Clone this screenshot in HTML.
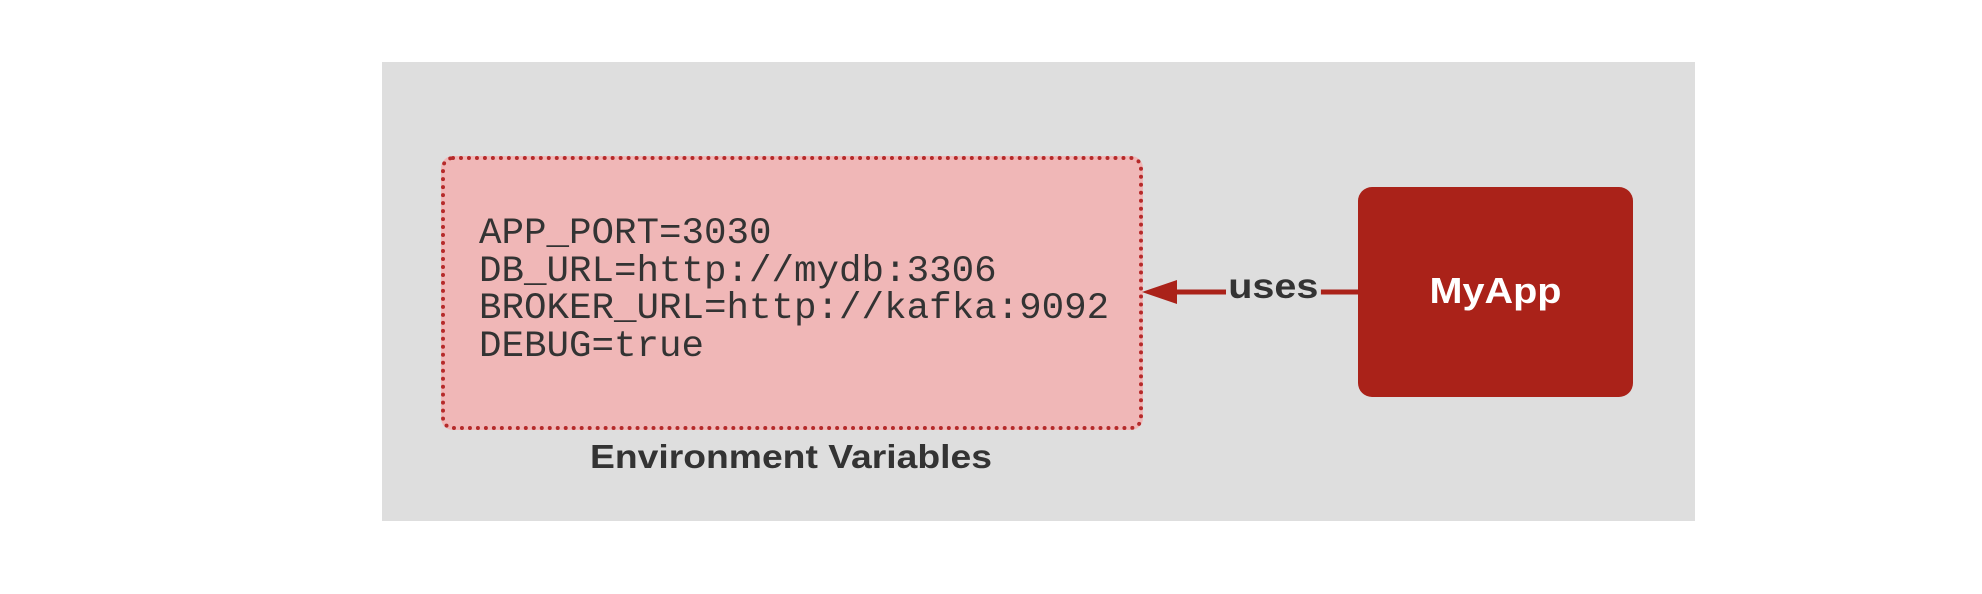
<!DOCTYPE html>
<html><head><meta charset="utf-8"><style>
html,body{margin:0;padding:0;background:#fff;}
body{width:1982px;height:594px;position:relative;overflow:hidden;}
.bg{position:absolute;left:382px;top:62px;width:1313px;height:459px;background:#dedede;}
.env{position:absolute;left:441px;top:156px;width:694px;height:266px;background:#f0b7b7;border:4px dotted #b52a2a;border-radius:12px;}
.code{position:absolute;left:479px;top:216px;font:37.5px/37.5px "Liberation Mono",monospace;color:#333;white-space:pre;}
.lbl{position:absolute;left:541px;width:500px;text-align:center;top:437px;font:bold 33px/40px "Liberation Sans",sans-serif;color:#333;transform:scaleX(1.13);}
.app{position:absolute;left:1358px;top:187px;width:275px;height:210px;background:#aa2219;border-radius:14px;}
.app span{position:absolute;left:0;right:0;top:84px;text-align:center;font:bold 36px/40px "Liberation Sans",sans-serif;color:#fff;transform:scaleX(1.1);}
.uses{position:absolute;left:1226px;top:268px;padding:0 2px;background:#dedede;font:bold 35px/38px "Liberation Sans",sans-serif;color:#333;transform:scaleX(1.13);transform-origin:left center;}
</style></head><body>
<div class="bg"></div>
<div class="env"></div>
<div class="code">APP_PORT=3030
DB_URL=http://mydb:3306
BROKER_URL=http://kafka:9092
DEBUG=true</div>
<div class="lbl">Environment Variables</div>
<svg style="position:absolute;left:0;top:0" width="1982" height="594">
<line x1="1358" y1="292" x2="1170" y2="292" stroke="#aa2219" stroke-width="5"/>
<polygon points="1142,292 1177,280 1177,304" fill="#aa2219"/>
</svg>
<div class="uses">uses</div>
<div class="app"><span>MyApp</span></div>
</body></html>
